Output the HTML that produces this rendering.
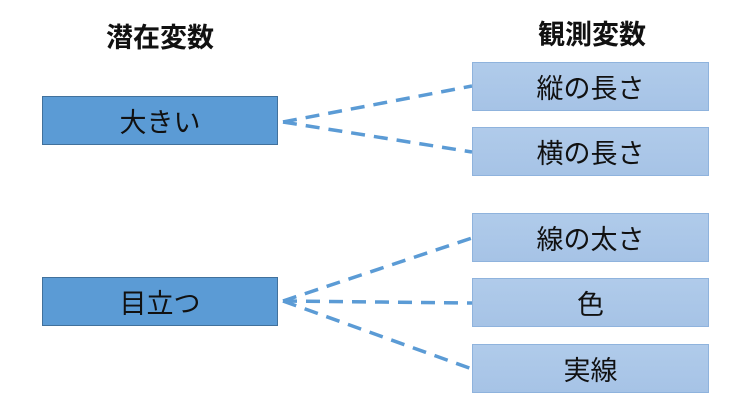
<!DOCTYPE html>
<html><head><meta charset="utf-8"><style>
body{margin:0;width:750px;height:405px;background:#fff;position:relative;overflow:hidden;font-family:"Liberation Sans","Noto Sans CJK JP",sans-serif}
.t{position:absolute;font-size:27px;font-weight:bold;color:#111;text-align:center;width:200px}
.l{position:absolute;left:42px;width:236px;height:49px;background:#5b9bd5;border:1px solid #41719c;box-sizing:border-box;font-size:27px;color:#111;display:flex;align-items:center;justify-content:center}
.r{position:absolute;left:472px;width:237px;height:49px;background:linear-gradient(#b0cbea,#a6c3e6);border:1px solid #8fb3dd;box-sizing:border-box;font-size:27px;color:#111;display:flex;align-items:center;justify-content:center}
svg{position:absolute;left:0;top:0}
</style></head><body>
<div class="t" style="left:60px;top:16px">潜在変数</div>
<div class="t" style="left:492px;top:13px">観測変数</div>
<svg width="750" height="405"><g stroke="#5b9bd5" stroke-width="3.5" stroke-dasharray="14,9" fill="none">
<line x1="283" y1="122" x2="472" y2="86"/><line x1="283" y1="122" x2="472" y2="152"/>
<line x1="283" y1="301" x2="472" y2="238"/><line x1="283" y1="301" x2="472" y2="303"/><line x1="283" y1="301" x2="472" y2="369"/>
</g></svg>
<div class="l" style="top:96px">大きい</div>
<div class="l" style="top:277px">目立つ</div>
<div class="r" style="top:62px">縦の長さ</div>
<div class="r" style="top:127px">横の長さ</div>
<div class="r" style="top:213px">線の太さ</div>
<div class="r" style="top:278px">色</div>
<div class="r" style="top:344px">実線</div>
</body></html>
